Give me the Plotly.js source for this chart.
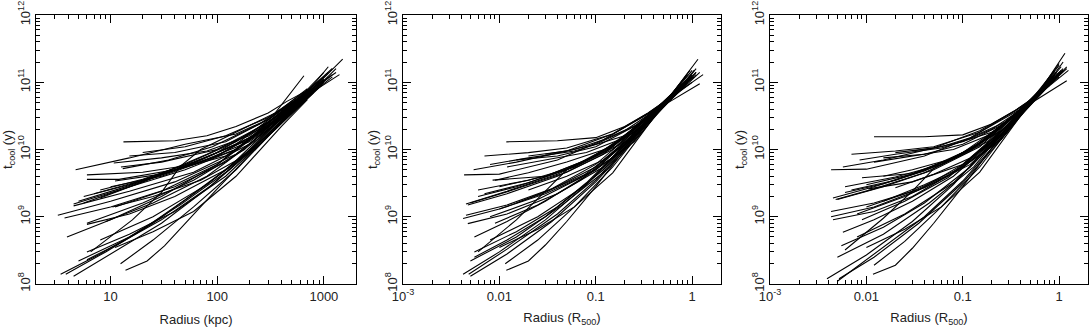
<!DOCTYPE html>
<html>
<head>
<meta charset="utf-8">
<script src="https://cdn.plot.ly/plotly-3.0.1.min.js"></script>
<style>
  html, body { margin: 0; padding: 0; background: #fff; }
  #chart { width: 1089px; height: 327px; }
</style>
</head>
<body>
<div id="chart"></div>
<script>
// Cooling time profiles, radius in kpc (left panel)
const kpcRadius = [
    [3.4, 8, 20, 50, 130, 350, 850],
    [3.8, 9, 25, 70, 200, 500, 1100],
    [4.5, 10, 30, 80, 250, 600, 1000],
    [13.8, 22, 32, 50, 100, 250, 600, 950],
    [12.4, 25, 60, 150, 400, 900],
    [6, 15, 40, 120, 350, 800],
    [6, 12, 30, 90, 250, 700, 1500],
    [11, 25, 60, 150, 400, 700],
    [6.5, 16, 30, 45, 70, 150, 350, 650],
    [3.9, 10, 30, 100, 300, 800],
    [6, 15, 40, 120, 350, 900],
    [10.4, 25, 70, 180, 450, 1000],
    [13.2, 40, 80, 150, 300, 450, 750],
    [4.7, 15, 50, 150, 300, 600, 1200],
    [10.7, 30, 80, 200, 500, 1000],
    [12.5, 30, 100, 300, 800],
    [6, 20, 60, 150, 400, 1000],
    [6, 12, 40, 120, 400, 900],
    [4.5, 15, 50, 150, 500, 1200],
    [4.5, 15, 60, 200, 600, 1400],
    [5.6, 15, 50, 150, 500, 1300],
    [3.2, 10, 40, 150, 500, 900],
    [3.7, 10, 40, 120, 400, 800],
    [11, 30, 100, 300, 700],
    [5.6, 20, 80, 250, 700],
    [8, 25, 70, 200, 550, 1100],
    [15, 50, 150, 350, 650],
    [11, 30, 100, 300, 800],
    [8, 20, 60, 200, 500, 1000],
    [13, 35, 90, 250, 650],
    [6, 20, 60, 180, 450, 1000],
    [5, 12, 35, 100, 300, 700],
    [7, 20, 60, 200, 500, 1100],
    [9, 25, 80, 250, 600, 1200],
    [20, 50, 120, 300, 600],
    [5, 15, 45, 130, 400, 900],
    [8, 25, 80, 250, 700, 1300],
    [10, 30, 90, 250, 550],
    [15, 40, 120, 300, 700]
];
const kpcTcool = [
    [1.4e8, 2.8e8, 6.5e8, 1.8e9, 5.5e9, 2.5e10, 9e10],
    [1.4e8, 3e8, 8e8, 2.6e9, 9e9, 3.8e10, 1.2e11],
    [1.3e8, 2.8e8, 8e8, 2.6e9, 1.2e10, 5e10, 1e11],
    [1.6e8, 2.2e8, 3.7e8, 8e8, 2.6e9, 1.2e10, 4.5e10, 9e10],
    [2e8, 4.5e8, 1.4e9, 5e9, 2.5e10, 8.5e10],
    [3e8, 5.5e8, 1.2e9, 4e9, 2e10, 7e10],
    [2.3e8, 4e8, 9e8, 3e9, 1.3e10, 6.5e10, 2.2e11],
    [3.5e8, 6e8, 1.2e9, 4e9, 2.2e10, 5.5e10],
    [3e8, 9e8, 2.3e9, 5.6e9, 1e10, 1.8e10, 3.5e10, 1.25e11],
    [5e8, 9e8, 2e9, 6e9, 2.2e10, 8e10],
    [7.7e8, 1.1e9, 2e9, 5e9, 2e10, 9e10],
    [1.4e9, 2e9, 3.5e9, 8e9, 3.5e10, 1.1e11],
    [1.3e10, 1.35e10, 1.6e10, 2.2e10, 3.5e10, 5.2e10, 8e10],
    [5e9, 7.5e9, 1.2e10, 1.7e10, 2.8e10, 6e10, 1.6e11],
    [6.3e9, 7.5e9, 9.5e9, 1.6e10, 4.5e10, 1e11],
    [5.5e9, 6.5e9, 1e10, 2.5e10, 8e10],
    [4.2e9, 4.6e9, 6e9, 1e10, 3.5e10, 1.1e11],
    [3.6e9, 3.6e9, 5e9, 8e9, 3e10, 9e10],
    [1.55e9, 2.8e9, 5e9, 1e10, 4e10, 1.3e11],
    [1.45e9, 2.4e9, 4.6e9, 1.2e10, 5.5e10, 1.3e11],
    [2e9, 3e9, 5.5e9, 1.2e10, 5e10, 1.4e11],
    [1.05e9, 1.7e9, 3.3e9, 8.5e9, 3.8e10, 9e10],
    [9.6e8, 1.4e9, 2.8e9, 6.5e9, 2.8e10, 7.5e10],
    [3.4e9, 4.3e9, 8e9, 2.2e10, 7e10],
    [1.6e9, 3.3e9, 8.5e9, 2e10, 7.5e10],
    [1.9e9, 3.8e9, 7e9, 1.5e10, 4.5e10, 1.7e11],
    [3e9, 6e9, 1.3e10, 3e10, 6.5e10],
    [1.4e9, 2.4e9, 6e9, 2.5e10, 9e10],
    [2.5e9, 3.6e9, 6.5e9, 1.4e10, 4.5e10, 1.4e11],
    [5.2e9, 7e9, 1.1e10, 2.4e10, 7e10],
    [8e8, 1.6e9, 3.5e9, 1e10, 4e10, 1.2e11],
    [1.7e9, 2.6e9, 4.5e9, 9e9, 2.6e10, 7e10],
    [2.2e9, 3.5e9, 6e9, 1.3e10, 4e10, 1.4e11],
    [8.5e8, 1.6e9, 4e9, 1.5e10, 5e10, 1.2e11],
    [9e9, 1.1e10, 1.6e10, 3e10, 6e10],
    [2.2e8, 5e8, 1.5e9, 5e9, 3e10, 1e11],
    [4.5e8, 1e9, 3e9, 1.3e10, 6e10, 1.6e11],
    [2.8e9, 4e9, 7.5e9, 1.8e10, 5e10],
    [8e9, 9e9, 1.3e10, 2.8e10, 8e10]
];

// Radius in units of R500 (middle panel)
const r500RadiusA = [
    [0.0042, 0.01, 0.03, 0.08, 0.2, 0.45, 0.9],
    [0.0048, 0.012, 0.04, 0.1, 0.25, 0.5, 1.0],
    [0.005, 0.012, 0.035, 0.1, 0.3, 0.55, 1.1],
    [0.0118, 0.02, 0.03, 0.05, 0.1, 0.2, 0.45, 0.85],
    [0.0115, 0.025, 0.06, 0.15, 0.4, 1.0],
    [0.0055, 0.015, 0.04, 0.12, 0.35, 0.8],
    [0.0055, 0.012, 0.03, 0.08, 0.25, 0.5, 1.15],
    [0.01, 0.025, 0.06, 0.15, 0.4, 0.9],
    [0.006, 0.015, 0.03, 0.05, 0.1, 0.25, 0.5, 0.95],
    [0.0055, 0.012, 0.03, 0.1, 0.3, 0.7],
    [0.0047, 0.012, 0.04, 0.12, 0.35, 0.9],
    [0.0045, 0.012, 0.035, 0.1, 0.3, 0.75],
    [0.0042, 0.01, 0.03, 0.1, 0.3, 0.8],
    [0.0118, 0.04, 0.1, 0.2, 0.35, 0.6, 1.05],
    [0.0054, 0.015, 0.05, 0.15, 0.35, 0.65, 1.3],
    [0.0043, 0.01, 0.04, 0.12, 0.3, 0.6, 1.2],
    [0.0085, 0.03, 0.08, 0.2, 0.45, 1.0],
    [0.0045, 0.012, 0.04, 0.12, 0.4, 0.9],
    [0.0047, 0.012, 0.04, 0.12, 0.4, 1.1],
    [0.006, 0.015, 0.04, 0.1, 0.3, 0.7],
    [0.009, 0.02, 0.05, 0.15, 0.4, 1.0],
    [0.006, 0.02, 0.06, 0.15, 0.45, 0.9],
    [0.012, 0.03, 0.08, 0.2, 0.45, 0.8],
    [0.008, 0.02, 0.06, 0.2, 0.5, 1.2],
    [0.015, 0.04, 0.1, 0.25, 0.5, 1.0],
    [0.008, 0.025, 0.07, 0.2, 0.45, 0.85],
    [0.01, 0.03, 0.08, 0.2, 0.45, 0.9],
    [0.02, 0.05, 0.12, 0.3, 0.6, 1.1],
    [0.007, 0.02, 0.05, 0.15, 0.4, 0.9],
    [0.02, 0.05, 0.1, 0.2, 0.4, 0.8],
    [0.005, 0.015, 0.05, 0.15, 0.4, 0.9],
    [0.007, 0.02, 0.06, 0.18, 0.45, 1.1],
    [0.009, 0.025, 0.07, 0.2, 0.45, 0.9],
    [0.03, 0.06, 0.12, 0.3, 0.6],
    [0.005, 0.015, 0.045, 0.13, 0.4, 0.85],
    [0.008, 0.025, 0.08, 0.25, 0.55, 1.05],
    [0.01, 0.03, 0.09, 0.25, 0.5],
    [0.015, 0.04, 0.1, 0.25, 0.5, 0.95]
];
const r500TcoolA = [
    [1.4e8, 3e8, 9e8, 3e9, 1.2e10, 4e10, 1.1e11],
    [1.4e8, 3.3e8, 1.1e9, 3.5e9, 1.5e10, 4.5e10, 1.2e11],
    [1.3e8, 2.8e8, 8.5e8, 3.3e9, 1.8e10, 5e10, 1.4e11],
    [1.6e8, 2.2e8, 3.8e8, 8.5e8, 2.8e9, 1e10, 3.8e10, 1.2e11],
    [2e8, 4.5e8, 1.4e9, 5.5e9, 3.2e10, 1.3e11],
    [3e8, 6e8, 1.4e9, 5e9, 2.6e10, 8.5e10],
    [2.5e8, 4.5e8, 1e9, 3.2e9, 1.6e10, 4.5e10, 2.2e11],
    [3.5e8, 6.5e8, 1.4e9, 4.5e9, 3e10, 1e11],
    [3e8, 9e8, 2.4e9, 5e9, 8.5e9, 1.8e10, 4.5e10, 1.5e11],
    [5e8, 8.5e8, 1.7e9, 5e9, 2.2e10, 7e10],
    [7.9e8, 1.1e9, 2.2e9, 5.5e9, 2.6e10, 1e11],
    [1.05e9, 1.5e9, 2.6e9, 6e9, 2.3e10, 8e10],
    [9.4e8, 1.3e9, 2.3e9, 5.5e9, 2.2e10, 9e10],
    [1.3e10, 1.35e10, 1.5e10, 2.2e10, 3.5e10, 6e10, 1.2e11],
    [5e9, 6.5e9, 9.5e9, 1.7e10, 3.5e10, 6.5e10, 1.3e11],
    [4.2e9, 4.3e9, 7e9, 1.4e10, 3e10, 5.5e10, 1.4e11],
    [3.5e9, 4e9, 7e9, 1.5e10, 4e10, 1.2e11],
    [1.55e9, 2.4e9, 4.3e9, 9e9, 3.6e10, 1e11],
    [1.5e9, 2.2e9, 4e9, 8.5e9, 3.8e10, 1.3e11],
    [2e9, 2.8e9, 4.5e9, 8e9, 2.5e10, 8e10],
    [3.5e9, 4.5e9, 6.5e9, 1.1e10, 3.8e10, 1e11],
    [2.5e9, 3.5e9, 5.5e9, 1.1e10, 4e10, 1.1e11],
    [5.5e9, 7e9, 9e9, 1.5e10, 4.2e10, 9.5e10],
    [6e9, 7.5e9, 9.5e9, 1.6e10, 4.5e10, 9.5e10],
    [1.6e9, 2.8e9, 5e9, 1.3e10, 4.5e10, 1.5e11],
    [1e9, 1.8e9, 3.8e9, 1.2e10, 4.2e10, 1e11],
    [1.3e9, 2.2e9, 4.2e9, 1e10, 4e10, 1.3e11],
    [2.5e9, 4e9, 7e9, 2e10, 5.5e10, 1.6e11],
    [8e9, 9e9, 1.05e10, 1.7e10, 3.8e10, 1.1e11],
    [8e9, 9.5e9, 1.2e10, 1.9e10, 3.7e10, 8.5e10],
    [1.6e9, 2.6e9, 4.6e9, 1e10, 3.7e10, 1.1e11],
    [2.2e9, 3.2e9, 5.5e9, 1.2e10, 4.2e10, 1.4e11],
    [8e8, 1.5e9, 3.5e9, 1.2e10, 4.2e10, 1.1e11],
    [8.5e9, 1e10, 1.4e10, 2.5e10, 6e10],
    [2.2e8, 5e8, 1.5e9, 5e9, 3.5e10, 1e11],
    [4.5e8, 1e9, 3e9, 1.5e10, 5e10, 1.5e11],
    [2.8e9, 4e9, 7.5e9, 1.8e10, 4.5e10],
    [7e9, 8e9, 1.1e10, 2.2e10, 4.6e10, 1.2e11]
];

// Radius in units of R500, second scaling (right panel)
const r500RadiusB = [
    [0.0039, 0.01, 0.03, 0.08, 0.2, 0.45, 0.9],
    [0.005, 0.012, 0.04, 0.1, 0.25, 0.5, 1.0],
    [0.0052, 0.012, 0.035, 0.1, 0.3, 0.55, 1.15],
    [0.0117, 0.02, 0.03, 0.05, 0.1, 0.2, 0.45, 0.9],
    [0.012, 0.025, 0.06, 0.15, 0.4, 1.05],
    [0.0055, 0.015, 0.04, 0.12, 0.35, 0.8],
    [0.0057, 0.012, 0.03, 0.08, 0.25, 0.5, 1.2],
    [0.01, 0.025, 0.06, 0.15, 0.4, 0.95],
    [0.006, 0.015, 0.03, 0.05, 0.1, 0.25, 0.5, 1.0],
    [0.0045, 0.012, 0.03, 0.1, 0.3, 0.7],
    [0.0043, 0.012, 0.04, 0.12, 0.35, 0.9],
    [0.0043, 0.012, 0.035, 0.1, 0.3, 0.75],
    [0.0105, 0.03, 0.1, 0.3, 0.8],
    [0.012, 0.04, 0.1, 0.2, 0.35, 0.6, 1.1],
    [0.0057, 0.015, 0.05, 0.15, 0.35, 0.65, 1.25],
    [0.0043, 0.01, 0.04, 0.12, 0.3, 0.6, 1.2],
    [0.009, 0.03, 0.08, 0.2, 0.45, 1.0],
    [0.0045, 0.012, 0.04, 0.12, 0.4, 0.9],
    [0.0048, 0.012, 0.04, 0.12, 0.4, 1.1],
    [0.006, 0.015, 0.04, 0.1, 0.3, 0.7],
    [0.015, 0.03, 0.07, 0.15, 0.4, 1.0],
    [0.006, 0.02, 0.06, 0.15, 0.45, 0.9],
    [0.012, 0.03, 0.08, 0.2, 0.45, 0.8],
    [0.0085, 0.02, 0.06, 0.2, 0.5, 1.2],
    [0.015, 0.04, 0.1, 0.25, 0.5, 1.0],
    [0.008, 0.025, 0.07, 0.2, 0.45, 0.85],
    [0.01, 0.03, 0.08, 0.2, 0.45, 0.9],
    [0.02, 0.05, 0.12, 0.3, 0.6, 1.1],
    [0.007, 0.02, 0.05, 0.15, 0.4, 0.9],
    [0.02, 0.05, 0.1, 0.2, 0.4, 0.8],
    [0.005, 0.015, 0.05, 0.15, 0.4, 0.9],
    [0.007, 0.02, 0.06, 0.18, 0.45, 1.1],
    [0.009, 0.025, 0.07, 0.2, 0.45, 0.9],
    [0.03, 0.06, 0.12, 0.3, 0.6],
    [0.005, 0.015, 0.045, 0.13, 0.4, 0.85],
    [0.008, 0.025, 0.08, 0.25, 0.55, 1.05],
    [0.01, 0.03, 0.09, 0.25, 0.5],
    [0.015, 0.04, 0.1, 0.25, 0.5, 0.95]
];
const r500TcoolB = [
    [1.2e8, 2.7e8, 8.5e8, 3e9, 1.3e10, 4.3e10, 1.3e11],
    [1.1e8, 2.8e8, 1e9, 3.4e9, 1.5e10, 4.8e10, 1.4e11],
    [1.2e8, 2.5e8, 8e8, 3.2e9, 1.9e10, 5.5e10, 2.7e11],
    [1.4e8, 1.9e8, 3.4e8, 8e8, 2.8e9, 1.05e10, 4e10, 1.4e11],
    [1.9e8, 4.3e8, 1.4e9, 5.5e9, 3.4e10, 1.5e11],
    [3.7e8, 7e8, 1.6e9, 5.5e9, 2.8e10, 1e11],
    [5.9e8, 9e8, 1.7e9, 4e9, 1.7e10, 5e10, 1.6e11],
    [3.5e8, 6.5e8, 1.4e9, 4.6e9, 3.2e10, 1.2e11],
    [3.2e8, 9.5e8, 2.4e9, 5.2e9, 9e9, 1.9e10, 4.8e10, 1.8e11],
    [9e8, 1.2e9, 2e9, 5.5e9, 2.4e10, 8e10],
    [1.2e9, 1.6e9, 2.7e9, 6e9, 2.7e10, 1.1e11],
    [1e9, 1.4e9, 2.5e9, 6e9, 2.4e10, 8.5e10],
    [2.6e9, 3.3e9, 6e9, 2.3e10, 1e11],
    [1.55e10, 1.55e10, 1.65e10, 2.4e10, 3.8e10, 6.5e10, 1.5e11],
    [5.5e9, 7e9, 1.05e10, 1.9e10, 3.8e10, 7e10, 1.5e11],
    [5e9, 5.1e9, 8e9, 1.5e10, 3.3e10, 6e10, 1.7e11],
    [3.8e9, 4.4e9, 7.5e9, 1.6e10, 4.3e10, 1.3e11],
    [1.9e9, 2.8e9, 4.8e9, 1e10, 3.8e10, 1.1e11],
    [1.8e9, 2.6e9, 4.5e9, 9.5e9, 4e10, 1.5e11],
    [2.3e9, 3.1e9, 5e9, 9e9, 2.7e10, 8.5e10],
    [4e9, 5e9, 7e9, 1.2e10, 4e10, 1.2e11],
    [2.8e9, 3.9e9, 6e9, 1.2e10, 4.3e10, 1.2e11],
    [6.5e9, 8e9, 1e10, 1.7e10, 4.5e10, 1e11],
    [7e9, 8.5e9, 1.05e10, 1.8e10, 4.8e10, 1.05e11],
    [1.7e9, 3e9, 5.5e9, 1.4e10, 4.8e10, 1.9e11],
    [1.1e9, 2e9, 4e9, 1.3e10, 4.5e10, 1.1e11],
    [1.4e9, 2.4e9, 4.5e9, 1.1e10, 4.3e10, 1.5e11],
    [2.7e9, 4.3e9, 7.5e9, 2.1e10, 6e10, 2e11],
    [8.5e9, 9.5e9, 1.1e10, 1.8e10, 4e10, 1.2e11],
    [9e9, 1.05e10, 1.3e10, 2e10, 3.9e10, 9e10],
    [1.8e9, 2.8e9, 5e9, 1.1e10, 4e10, 1.3e11],
    [2.5e9, 3.5e9, 6e9, 1.3e10, 4.5e10, 1.6e11],
    [9e8, 1.7e9, 3.8e9, 1.3e10, 4.5e10, 1.2e11],
    [9.5e9, 1.1e10, 1.5e10, 2.7e10, 6.5e10],
    [2.5e8, 5.5e8, 1.6e9, 5.5e9, 3.8e10, 1.1e11],
    [5e8, 1.1e9, 3.2e9, 1.6e10, 5.5e10, 1.7e11],
    [3e9, 4.3e9, 8e9, 1.9e10, 4.8e10],
    [7.5e9, 8.5e9, 1.2e10, 2.3e10, 5e10, 1.4e11]
];

// Tick labels
const yTickVals = [1e8, 1e9, 1e10, 1e11, 1e12];
const yTickText = ['10<sup>8</sup>', '10<sup>9</sup>', '10<sup>10</sup>', '10<sup>11</sup>', '10<sup>12</sup>'];
const kpcTickVals = [10, 100, 1000];
const kpcTickText = ['10', '100', '1000'];
const r500TickVals = [0.001, 0.01, 0.1, 1];
const r500TickText = ['10<sup>-3</sup>', '0.01', '0.1', '1'];

// minor tick positions (2..9 x 10^n) for log axes
function minorTicks(lo, hi) {
    const out = [];
    for (let e = lo; e <= hi; e++) {
        for (let m = 2; m <= 9; m++) out.push(m * Math.pow(10, e));
    }
    return out;
}

const traces = [];
function addPanel(radius, tcool, xa, ya) {
    radius.forEach((r, i) => {
        traces.push({
            x: r, y: tcool[i],
            xaxis: xa, yaxis: ya,
            type: 'scatter', mode: 'lines',
            line: { color: '#000', width: 1.1 },
            hoverinfo: 'skip', showlegend: false
        });
    });
}
addPanel(kpcRadius, kpcTcool, 'x', 'y');
addPanel(r500RadiusA, r500TcoolA, 'x2', 'y2');
addPanel(r500RadiusB, r500TcoolB, 'x3', 'y3');

const font = { family: 'Liberation Sans, Arial, sans-serif', size: 13, color: '#222' };

// boxed log axes, ticks on all four sides
const tickStyle = {
    ticks: 'inside', tickwidth: 1, tickcolor: '#000',
    showline: true, linecolor: '#000', linewidth: 1, mirror: 'allticks',
    showgrid: false, zeroline: false, type: 'log'
};
const minorStyle = { tickmode: 'array', ticks: 'inside', ticklen: 4, tickwidth: 1, tickcolor: '#000' };

function xAxis(domain, range, vals, text, title, anchor, lo, hi) {
    return Object.assign({}, tickStyle, {
        domain: domain, range: range, anchor: anchor,
        tickmode: 'array', tickvals: vals, ticktext: text, ticklen: 8,
        minor: Object.assign({ tickvals: minorTicks(lo, hi) }, minorStyle),
        tickfont: font,
        title: { text: title, font: font, standoff: 16 }
    });
}
function yAxis(domain, anchor) {
    return Object.assign({}, tickStyle, {
        domain: domain, range: [8, 12], anchor: anchor,
        tickmode: 'array', tickvals: yTickVals, ticktext: yTickText, tickangle: -90, ticklen: 8,
        minor: Object.assign({ tickvals: minorTicks(8, 11) }, minorStyle),
        tickfont: font,
        title: { text: 't<sub>cool</sub> (y)', font: font, standoff: 2 }
    });
}

const yDom = [0.1315, 0.9541];
const d1 = [0.0331, 0.3269], d2 = [0.3701, 0.6621], d3 = [0.7071, 0.9991];
const kpcRange = [Math.log10(2), Math.log10(2000)];
const r500Range = [-3, 0.3];

const layout = {
    width: 1089, height: 327,
    margin: { l: 0, r: 0, t: 0, b: 0 },
    paper_bgcolor: '#fff', plot_bgcolor: '#fff',
    font: font,
    xaxis: xAxis(d1, kpcRange, kpcTickVals, kpcTickText, 'Radius (kpc)', 'y', 0, 3),
    yaxis: yAxis(yDom, 'x'),
    xaxis2: xAxis(d2, r500Range, r500TickVals, r500TickText, 'Radius (R<sub>500</sub>)', 'y2', -3, 0),
    yaxis2: yAxis(yDom, 'x2'),
    xaxis3: xAxis(d3, r500Range, r500TickVals, r500TickText, 'Radius (R<sub>500</sub>)', 'y3', -3, 0),
    yaxis3: yAxis(yDom, 'x3')
};

Plotly.newPlot('chart', traces, layout, { staticPlot: true, displayModeBar: false });
</script>
</body>
</html>
